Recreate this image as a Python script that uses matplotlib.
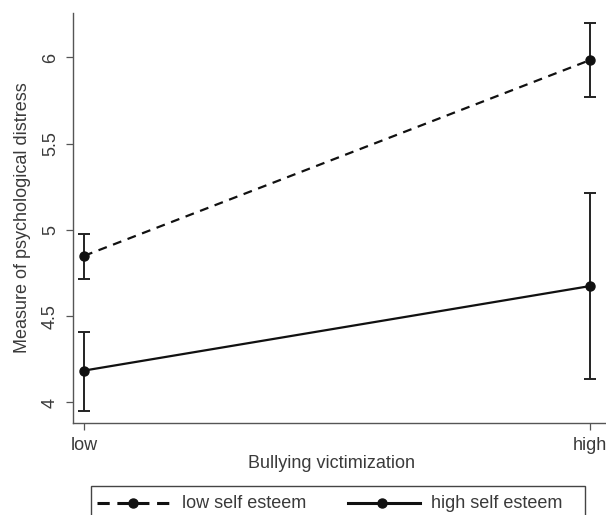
import matplotlib
matplotlib.use('Agg')
import matplotlib.pyplot as plt
from matplotlib.patches import Rectangle
from matplotlib.lines import Line2D

plt.rcParams['font.family'] = ['Liberation Sans', 'DejaVu Sans']

# Data
categories = ['low', 'high']
x_pos = [1, 2]

low_se_mean = [4.85, 5.985]
low_se_lower = [4.716, 5.77]
low_se_upper = [4.977, 6.20]

high_se_mean = [4.185, 4.675]
high_se_lower = [3.952, 4.136]
high_se_upper = [4.409, 5.214]

yticks = [4, 4.5, 5, 5.5, 6]
ytick_labels = ['4', '4.5', '5', '5.5', '6']

text_col = '#3a3a3a'
line_col = '#111111'

fig = plt.figure(figsize=(6.06, 5.15), dpi=100)
ax = fig.add_axes([73 / 606, 1 - 423 / 515, 1 - 73 / 606, (423 - 13) / 515])


def err(mean, lo, hi):
    return [[m - l for m, l in zip(mean, lo)], [h - m for m, h in zip(mean, hi)]]


ax.errorbar(x_pos, low_se_mean, yerr=err(low_se_mean, low_se_lower, low_se_upper),
            color=line_col, linestyle=(0, (4, 3)), linewidth=1.6, marker='o', markersize=6.5,
            elinewidth=1.4, capsize=4, capthick=1.4, ecolor='#222222')
ax.errorbar(x_pos, high_se_mean, yerr=err(high_se_mean, high_se_lower, high_se_upper),
            color=line_col, linestyle='-', linewidth=1.6, marker='o', markersize=6.5,
            elinewidth=1.4, capsize=4, capthick=1.4, ecolor='#222222')

ax.set_xlim(1 - 11 / 506, 2 + 16 / 506)
ax.set_ylim(4 - 20.5 / 172.5, 6 + 44.5 / 172.5)

ax.set_xticks(x_pos)
ax.set_xticklabels(categories)
ax.set_yticks(yticks)
ax.set_yticklabels(ytick_labels, rotation=90, va='center')

for s in ['top', 'right']:
    ax.spines[s].set_visible(False)
for s in ['left', 'bottom']:
    ax.spines[s].set_color('#555555')
    ax.spines[s].set_linewidth(1.0)

ax.tick_params(axis='both', length=5, width=0.9, color='#555555',
               labelcolor=text_col, labelsize=13)
ax.tick_params(axis='y', pad=5)
ax.tick_params(axis='x', pad=5)

ax.set_ylabel('Measure of psychological distress', fontsize=13, color=text_col, labelpad=8)
fig.text(331 / 606, 1 - 463 / 515, 'Bullying victimization', fontsize=13,
         color=text_col, ha='center', va='center')

# Legend box at the bottom, clipped by the figure edge as in the reference
def fx(px):
    return px / 606


def fy(py):
    return 1 - py / 515


fig.add_artist(Rectangle((fx(91), fy(522)), fx(585) - fx(91), fy(486) - fy(522),
                         transform=fig.transFigure, facecolor='white',
                         edgecolor='#444444', linewidth=1.0))
ly = fy(503)
fig.add_artist(Line2D([fx(97), fx(170)], [ly, ly], transform=fig.transFigure,
                      color=line_col, linewidth=2.2, linestyle=(0, (4, 2.5))))
fig.add_artist(Line2D([fx(133)], [ly], transform=fig.transFigure, color=line_col,
                      marker='o', markersize=6.5))
fig.text(fx(182), ly, 'low self esteem', fontsize=13, color=text_col, va='center', ha='left')
fig.add_artist(Line2D([fx(348), fx(420)], [ly, ly], transform=fig.transFigure,
                      color=line_col, linewidth=2.2))
fig.add_artist(Line2D([fx(382)], [ly], transform=fig.transFigure, color=line_col,
                      marker='o', markersize=6.5))
fig.text(fx(431), ly, 'high self esteem', fontsize=13, color=text_col, va='center', ha='left')

fig.savefig('out.png', dpi=100, facecolor='white')
